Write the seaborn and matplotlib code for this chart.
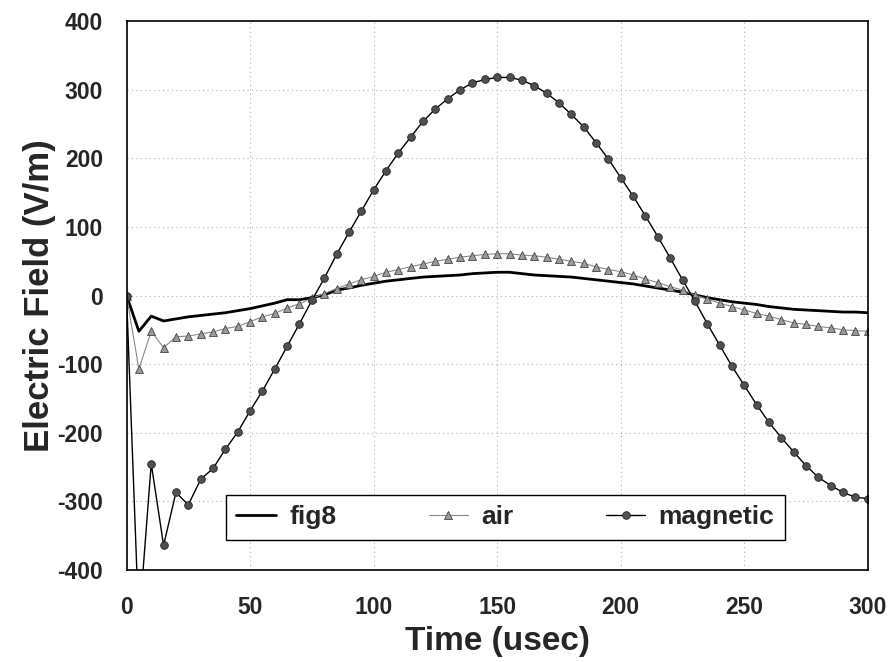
import numpy as np
import pandas as pd
import matplotlib
matplotlib.use("Agg")
import matplotlib.pyplot as plt
import seaborn as sns

time_us = list(range(0, 301, 5))

fig8 = [0, -52, -30, -37, -34, -31, -29, -27, -25, -22, -19, -15, -11, -6, -6, -3,
        1, 8, 11, 15, 18, 21, 23, 25, 27, 28, 29, 30, 32, 33, 34, 34, 32, 30, 29,
        28, 27, 25, 23, 21, 19, 17, 14, 11, 8, 5, 1, -3, -6, -9, -11, -13, -16,
        -18, -20, -21, -22, -23, -24, -24, -25]

air = [0, -107, -52, -76, -60, -59, -56, -53, -48, -45, -38, -31, -26, -18, -12, -4,
       3, 10, 17, 23, 28, 34, 38, 42, 46, 50, 53, 56, 58, 60, 61, 61, 59, 58, 56,
       53, 50, 47, 42, 38, 35, 30, 24, 19, 13, 8, 1, -5, -11, -16, -21, -26, -30,
       -35, -40, -42, -45, -47, -50, -51, -52]

magnetic = [0, -480, -245, -364, -287, -305, -268, -252, -224, -199, -168, -139,
            -107, -74, -41, -7, 25, 60, 92, 123, 154, 182, 208, 231, 254, 272, 287,
            300, 310, 315, 318, 318, 314, 306, 295, 281, 264, 246, 223, 199, 172,
            145, 116, 86, 55, 23, -8, -41, -72, -103, -131, -159, -185, -207, -228,
            -248, -265, -277, -287, -294, -296]

x_ticks = [0, 50, 100, 150, 200, 250, 300]
y_ticks = [-400, -300, -200, -100, 0, 100, 200, 300, 400]

df = pd.DataFrame({"t": time_us, "fig8": fig8, "air": air, "magnetic": magnetic})

sns.set_theme(style="white")
plt.rcParams["font.family"] = ["Liberation Sans", "DejaVu Sans"]
plt.rcParams["axes.unicode_minus"] = False

fig = plt.figure(figsize=(8.91, 6.62), dpi=100)
ax = fig.add_axes([0.142, 0.139, 0.832, 0.829])

sns.lineplot(data=df, x="t", y="fig8", ax=ax, color="black", linewidth=2.0,
             label="fig8")
sns.lineplot(data=df, x="t", y="air", ax=ax, color="#8a8a8a", linewidth=0.8,
             marker="^", markersize=6, markerfacecolor="#9a9a9a",
             markeredgecolor="#444444", markeredgewidth=0.6, label="air")
sns.lineplot(data=df, x="t", y="magnetic", ax=ax, color="black", linewidth=1.0,
             marker="o", markersize=5.5, markerfacecolor="#505050",
             markeredgecolor="#222222", markeredgewidth=0.6, label="magnetic")

ax.set_xlim(0, 300)
ax.set_ylim(-400, 400)
ax.set_xticks(x_ticks)
ax.set_yticks(y_ticks)
ax.grid(True, linestyle=(0, (1, 3)), color="#b0b0b0", linewidth=0.8)
for s in ax.spines.values():
    s.set_visible(True)
    s.set_color("black")
    s.set_linewidth(1.2)
ax.tick_params(axis="both", length=0, labelsize=16.5)
ax.tick_params(axis="x", pad=19)
ax.tick_params(axis="y", pad=17)
for lab in ax.get_xticklabels() + ax.get_yticklabels():
    lab.set_fontweight("bold")

ax.set_xlabel("Time (usec)", fontsize=24, fontweight="bold", labelpad=5)
ax.set_ylabel("Electric Field (V/m)", fontsize=25, fontweight="bold", labelpad=1)

leg = ax.legend(loc="lower left", bbox_to_anchor=(0.134, 0.055, 0.754, 0.122),
                mode="expand", ncol=3, frameon=True, fancybox=False,
                prop={"weight": "bold", "size": 19}, handlelength=1.5,
                handletextpad=0.5, borderaxespad=0)
leg.get_frame().set_edgecolor("black")
leg.get_frame().set_linewidth(1.0)
leg.get_frame().set_facecolor("white")
leg.get_frame().set_alpha(1)

fig.savefig("out.png", dpi=100)
